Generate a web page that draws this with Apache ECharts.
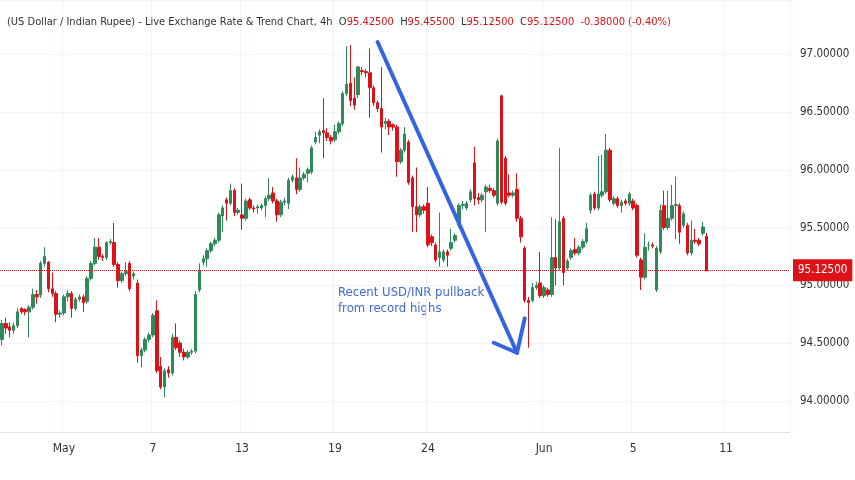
<!DOCTYPE html>
<html>
<head>
<meta charset="utf-8">
<script src="https://cdn.jsdelivr.net/npm/echarts@6/dist/echarts.min.js"></script>
<style>
  html, body { margin: 0; padding: 0; background: #fff; }
  #main { width: 855px; height: 480px; }
</style>
</head>
<body>
<div id="main"></div>
<script>
// 4h candles (oldest first)
const open = [
  94.53, 94.67, 94.64, 94.61, 94.65, 94.80, 94.79, 94.77, 94.81, 94.92,
  94.92, 95.19, 95.20, 94.97, 94.93, 94.75, 94.76, 94.90, 94.93, 94.80,
  94.88, 94.90, 94.86, 95.06, 95.19, 95.33, 95.25, 95.24, 95.37, 95.37,
  95.18, 95.04, 95.10, 95.19, 95.08, 95.02, 94.39, 94.44, 94.53, 94.57,
  94.78, 94.30, 94.12, 94.27, 94.24, 94.55, 94.50, 94.42, 94.38, 94.42,
  94.43, 94.96, 95.20, 95.23, 95.30, 95.36, 95.39, 95.60, 95.74, 95.71,
  95.82, 95.63, 95.61, 95.58, 95.74, 95.67, 95.67, 95.67, 95.69, 95.75,
  95.80, 95.73, 95.61, 95.72, 95.71, 95.91, 95.93, 95.83, 95.93, 95.97,
  95.98, 96.24, 96.30, 96.34, 96.32, 96.28, 96.26, 96.33, 96.40, 96.66,
  96.75, 96.62, 96.65, 96.86, 96.85, 96.84, 96.71, 96.58, 96.53, 96.40,
  96.42, 96.39, 96.37, 96.07, 96.17, 96.24, 95.93, 95.68, 95.61, 95.68,
  95.71, 95.42, 95.35, 95.24, 95.22, 95.29, 95.32, 95.39, 95.52, 95.69,
  95.67, 95.74, 96.06, 95.76, 95.74, 95.81, 95.84, 95.82, 95.71, 96.64,
  96.10, 95.80, 95.78, 95.83, 95.58, 95.32, 94.87, 94.87, 94.98, 95.02,
  94.91, 94.96, 94.92, 95.24, 95.15, 95.58, 95.15, 95.24, 95.31, 95.28,
  95.33, 95.38, 95.65, 95.79, 95.67, 95.78, 95.81, 96.17, 95.71, 95.75,
  95.69, 95.73, 95.71, 95.73, 95.69, 95.22, 95.07, 95.35, 95.35, 94.96,
  95.29, 95.69, 95.50, 95.58, 95.69, 95.69, 95.52, 95.52, 95.28, 95.39,
  95.39, 95.45, 95.425
];
const close = [
  94.67, 94.63, 94.61, 94.65, 94.77, 94.77, 94.77, 94.81, 94.92, 94.90,
  95.19, 95.25, 94.97, 94.93, 94.75, 94.76, 94.90, 94.93, 94.80, 94.88,
  94.90, 94.85, 95.06, 95.19, 95.33, 95.25, 95.24, 95.37, 95.38, 95.18,
  95.04, 95.10, 95.12, 94.97, 95.10, 94.39, 94.44, 94.53, 94.57, 94.74,
  94.26, 94.12, 94.26, 94.24, 94.55, 94.46, 94.42, 94.38, 94.42, 94.43,
  94.92, 95.13, 95.23, 95.30, 95.36, 95.39, 95.61, 95.67, 95.71, 95.82,
  95.63, 95.65, 95.58, 95.73, 95.67, 95.66, 95.68, 95.69, 95.75, 95.78,
  95.73, 95.61, 95.72, 95.73, 95.91, 95.94, 95.83, 95.93, 95.96, 96.00,
  96.19, 96.28, 96.33, 96.32, 96.28, 96.25, 96.33, 96.40, 96.66, 96.74,
  96.60, 96.56, 96.89, 96.85, 96.84, 96.71, 96.58, 96.53, 96.37, 96.42,
  96.37, 96.37, 96.07, 96.17, 96.31, 95.89, 95.68, 95.61, 95.68, 95.65,
  95.35, 95.37, 95.22, 95.29, 95.29, 95.26, 95.37, 95.43, 95.69, 95.70,
  95.71, 95.81, 95.75, 95.74, 95.78, 95.85, 95.82, 95.78, 96.25, 95.72,
  95.71, 95.78, 95.80, 95.58, 95.42, 94.87, 94.85, 94.98, 95.00, 94.91,
  94.98, 94.92, 95.24, 95.15, 95.55, 95.11, 95.21, 95.30, 95.28, 95.33,
  95.38, 95.49, 95.78, 95.67, 95.79, 95.81, 96.17, 95.74, 95.75, 95.69,
  95.72, 95.71, 95.79, 95.67, 95.26, 95.07, 95.33, 95.35, 95.34, 95.32,
  95.65, 95.50, 95.58, 95.69, 95.70, 95.46, 95.62, 95.28, 95.39, 95.38,
  95.36, 95.505, 95.125
];
const low = [
  94.48, 94.58, 94.55, 94.58, 94.63, 94.75, 94.74, 94.55, 94.79, 94.84,
  94.89, 95.16, 94.94, 94.90, 94.68, 94.72, 94.74, 94.86, 94.72, 94.78,
  94.86, 94.77, 94.84, 95.04, 95.17, 95.22, 95.21, 95.22, 95.35, 95.16,
  94.98, 95.02, 95.08, 94.95, 95.05, 94.33, 94.29, 94.42, 94.51, 94.55,
  94.24, 94.10, 94.03, 94.20, 94.22, 94.44, 94.38, 94.35, 94.36, 94.40,
  94.41, 94.94, 95.17, 95.16, 95.28, 95.34, 95.37, 95.46, 95.56, 95.69,
  95.60, 95.61, 95.48, 95.56, 95.65, 95.63, 95.62, 95.65, 95.59, 95.73,
  95.71, 95.55, 95.59, 95.69, 95.66, 95.89, 95.79, 95.81, 95.91, 95.89,
  95.96, 96.22, 96.23, 96.10, 96.25, 96.22, 96.24, 96.31, 96.38, 96.64,
  96.55, 96.52, 96.62, 96.82, 96.80, 96.45, 96.55, 96.50, 96.15, 96.35,
  96.30, 96.34, 95.94, 96.05, 96.15, 95.87, 95.46, 95.46, 95.59, 95.62,
  95.33, 95.34, 95.20, 95.16, 95.20, 95.16, 95.30, 95.37, 95.50, 95.66,
  95.65, 95.72, 95.69, 95.70, 95.72, 95.46, 95.80, 95.76, 95.69, 95.70,
  95.69, 95.76, 95.76, 95.55, 95.37, 94.85, 94.46, 94.85, 94.96, 94.89,
  94.89, 94.90, 94.90, 95.00, 95.13, 95.00, 95.13, 95.22, 95.26, 95.26,
  95.31, 95.36, 95.62, 95.65, 95.65, 95.76, 95.79, 95.72, 95.69, 95.67,
  95.63, 95.69, 95.69, 95.65, 95.24, 94.96, 95.05, 95.30, 95.32, 94.94,
  95.27, 95.48, 95.48, 95.56, 95.40, 95.36, 95.50, 95.26, 95.26, 95.36,
  95.34, 95.43, 95.125
];
const high = [
  94.70, 94.72, 94.68, 94.68, 94.80, 94.81, 94.80, 94.83, 94.97, 94.96,
  95.21, 95.33, 95.21, 95.11, 94.95, 94.78, 94.92, 94.96, 94.95, 94.90,
  94.92, 94.92, 95.08, 95.21, 95.41, 95.41, 95.27, 95.38, 95.40, 95.54,
  95.20, 95.12, 95.20, 95.21, 95.12, 95.05, 94.46, 94.55, 94.59, 94.76,
  94.87, 94.38, 94.28, 94.30, 94.58, 94.67, 94.52, 94.45, 94.44, 94.45,
  94.95, 95.19, 95.26, 95.32, 95.38, 95.41, 95.63, 95.69, 95.76, 95.88,
  95.84, 95.67, 95.88, 95.75, 95.76, 95.69, 95.70, 95.71, 95.77, 95.93,
  95.85, 95.75, 95.74, 95.76, 95.93, 95.96, 96.10, 96.02, 95.98, 96.02,
  96.21, 96.33, 96.35, 96.62, 96.36, 96.30, 96.39, 96.42, 96.68, 97.07,
  97.08, 96.80, 96.90, 96.89, 96.87, 97.05, 96.73, 96.60, 96.89, 96.45,
  96.44, 96.40, 96.39, 96.19, 96.37, 96.26, 95.95, 96.02, 95.70, 95.70,
  95.85, 95.44, 95.37, 95.63, 95.31, 95.31, 95.49, 95.45, 95.71, 95.73,
  95.73, 95.83, 96.20, 95.80, 95.80, 95.87, 95.87, 95.84, 96.27, 96.65,
  96.12, 95.96, 95.82, 95.97, 95.60, 95.34, 94.90, 95.02, 95.03, 95.29,
  95.00, 94.98, 95.59, 95.57, 96.19, 95.60, 95.23, 95.32, 95.41, 95.35,
  95.40, 95.54, 95.80, 95.81, 96.12, 96.13, 96.31, 96.19, 95.77, 95.77,
  95.74, 95.75, 95.81, 95.75, 95.71, 95.24, 95.45, 95.38, 95.37, 95.34,
  95.70, 95.82, 95.82, 95.87, 95.94, 95.71, 95.64, 95.54, 95.56, 95.49,
  95.41, 95.55, 95.455
];

// time scale: bar slots, incl. empty future slots to the right edge
const slotCount = 204;
const tickIdx = [16, 39, 62, 86, 110, 140, 163, 187];
const tickText = ['May', '7', '13', '19', '24', 'Jun', '5', '11'];

// annotation arrow, in (bar index, price)
const arrowFrom = [97, 97.106];
const arrowTip = [133.3, 94.416];
const headLeft = [126.5, 94.503];
const headRight = [135.2, 94.714];

const GREEN = '#2f8a5a';
const RED = '#dd1219';
const BLUE = '#3264e3';
const FONT = '"DejaVu Sans Condensed", "Liberation Sans Narrow", sans-serif';

const n = close.length;
const last = n - 1;
const lastPrice = close[last];
const chg = close[last] - close[last - 1];
const pct = chg / close[last - 1] * 100;

const candles = open.map((o, i) => [o, close[i], low[i], high[i]]);
const slots = [];
for (let i = 0; i < slotCount; i++) slots.push(String(i));
const tickMap = {};
tickIdx.forEach((k, j) => { tickMap[k] = tickText[j]; });

let myChart = echarts.init(document.getElementById('main'));
myChart.setOption({
  animation: false,
  backgroundColor: '#fff',
  title: {
    left: 2,
    top: 12,
    text: '(US Dollar / Indian Rupee) - Live Exchange Rate & Trend Chart, 4h  ' +
      'O{r|' + open[last].toFixed(5) + '}  H{r|' + high[last].toFixed(5) + '}  ' +
      'L{r|' + low[last].toFixed(5) + '}  C{r|' + close[last].toFixed(5) + '}  ' +
      '{r|' + chg.toFixed(5) + ' (' + pct.toFixed(2) + '%)}',
    textStyle: {
      fontSize: 11,
      fontWeight: 'normal',
      color: '#333',
      fontFamily: FONT,
      rich: { r: { color: RED, fontSize: 11, fontFamily: FONT } }
    }
  },
  grid: { left: 0, right: 65, top: 0, bottom: 48 },
  xAxis: {
    type: 'category',
    data: slots,
    boundaryGap: true,
    axisLine: { lineStyle: { color: '#e0e3eb' } },
    axisTick: { show: false },
    axisLabel: {
      interval: (idx) => idx in tickMap,
      formatter: (v, idx) => tickMap[idx] || '',
      color: '#333',
      fontSize: 12,
      fontFamily: FONT,
      margin: 11
    },
    splitLine: {
      show: true,
      interval: (idx) => idx in tickMap,
      lineStyle: { color: '#f0f3fa' }
    }
  },
  yAxis: {
    type: 'value',
    position: 'right',
    min: 93.73,
    max: 97.47,
    splitNumber: 7,
    axisLine: { show: false },
    axisTick: { show: false },
    axisLabel: {
      margin: 10,
      color: '#333',
      fontSize: 11.5,
      fontFamily: FONT,
      showMinLabel: false,
      showMaxLabel: false,
      formatter: (v) => v.toFixed(5)
    },
    splitLine: { lineStyle: { color: '#f0f3fa' } }
  },
  graphic: [
    {
      type: 'text',
      left: 338,
      top: 285,
      style: {
        text: 'Recent USD/INR pullback\nfrom record highs',
        fill: '#3d69d6',
        fontSize: 13,
        lineHeight: 16,
        fontFamily: FONT
      }
    }
  ],
  series: [
    {
      name: 'USDINR',
      type: 'candlestick',
      data: candles,
      barWidth: 3,
      itemStyle: {
        color: GREEN,
        color0: RED,
        borderColor: GREEN,
        borderColor0: RED,
        borderWidth: 1
      },
      markLine: {
        silent: true,
        symbol: ['none', 'none'],
        animation: false,
        data: [
          {
            yAxis: lastPrice,
            lineStyle: { type: 'dotted', color: RED, width: 1 },
            label: {
              show: true,
              position: 'end',
              distance: 3,
              formatter: lastPrice.toFixed(5),
              backgroundColor: RED,
              color: '#fff',
              padding: [5, 5],
              fontSize: 11.5,
              fontFamily: FONT
            }
          },
          [
            { coord: arrowFrom, lineStyle: { color: BLUE, width: 4, type: 'solid', cap: 'round' }, label: { show: false } },
            { coord: arrowTip }
          ],
          [
            { coord: headLeft, lineStyle: { color: BLUE, width: 4, type: 'solid', cap: 'round' }, label: { show: false } },
            { coord: arrowTip }
          ],
          [
            { coord: headRight, lineStyle: { color: BLUE, width: 4, type: 'solid', cap: 'round' }, label: { show: false } },
            { coord: arrowTip }
          ]
        ]
      }
    }
  ]
});
</script>
</body>
</html>
